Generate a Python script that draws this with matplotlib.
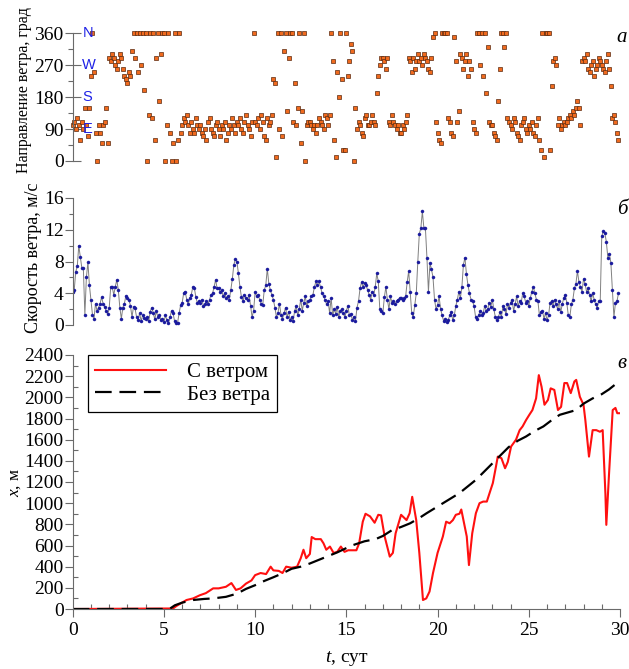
import numpy as np
import matplotlib
matplotlib.use("Agg")
import matplotlib.pyplot as plt
from matplotlib.ticker import MultipleLocator, FixedLocator

plt.rcParams['font.family'] = ['Liberation Serif', 'DejaVu Serif']
plt.rcParams['mathtext.fontset'] = 'custom'
plt.rcParams['mathtext.it'] = 'Liberation Serif:italic'
plt.rcParams['mathtext.rm'] = 'Liberation Serif'

# ---------------- data ----------------
# wind direction, deg (12 samples per day, days 0..29)
direction_by_day = [
    [100, 110, 90, 120, 100, 60, 110, 90, 150, 100, 70, 150],
    [240, 360, 250, 80, 0, 100, 80, 50, 100, 110, 150, 50],
    [290, 280, 300, 290, 270, 260, 280, 300, 290, 260, 240, 230],
    [220, 250, 240, 310, 360, 290, 360, 250, 360, 270, 360, 200],
    [360, 0, 130, 360, 120, 360, 60, 290, 360, 170, 300, 360],
    [360, 0, 100, 360, 80, 0, 50, 360, 0, 60, 360, 80],
    [100, 120, 110, 130, 100, 80, 110, 90, 80, 120, 100, 90],
    [100, 80, 70, 90, 60, 110, 120, 90, 80, 70, 100, 110],
    [90, 70, 100, 90, 110, 60, 80, 100, 90, 120, 100, 80],
    [110, 100, 120, 90, 80, 110, 130, 100, 90, 70, 110, 360],
    [110, 100, 120, 90, 130, 110, 70, 60, 120, 100, 110, 130],
    [230, 220, 10, 360, 90, 360, 70, 310, 360, 140, 290, 360],
    [360, 110, 220, 100, 150, 360, 50, 140, 360, 0, 100, 110],
    [110, 100, 90, 100, 80, 100, 120, 110, 100, 90, 130, 120],
    [100, 130, 360, 280, 60, 10, 250, 180, 360, 230, 30, 30],
    [360, 240, 280, 330, 310, 0, 150, 90, 110, 100, 80, 70],
    [120, 130, 100, 100, 110, 130, 110, 100, 190, 240, 270, 290],
    [290, 280, 260, 290, 110, 100, 130, 110, 100, 90, 100, 80],
    [80, 100, 90, 110, 130, 290, 280, 250, 290, 260, 280, 300],
    [280, 290, 270, 300, 290, 280, 260, 250, 290, 350, 360, 110],
    [80, 60, 50, 360, 360, 360, 360, 120, 110, 80, 70, 350],
    [280, 110, 140, 300, 290, 260, 280, 300, 240, 280, 260, 110],
    [90, 80, 360, 360, 270, 360, 240, 360, 190, 320, 110, 100],
    [100, 80, 70, 60, 170, 260, 360, 360, 320, 360, 120, 110],
    [100, 90, 120, 110, 80, 70, 60, 100, 110, 120, 90, 80],
    [100, 90, 110, 80, 70, 100, 120, 60, 30, 360, 10, 360],
    [360, 360, 30, 210, 280, 290, 270, 100, 120, 90, 100, 110],
    [100, 110, 120, 130, 120, 140, 130, 150, 170, 150, 100, 280],
    [290, 280, 300, 260, 250, 270, 280, 240, 260, 270, 290, 280],
    [270, 260, 250, 280, 300, 260, 210, 120, 130, 110, 80, 60],
]

# wind speed, m/s (12 samples per day)
speed_by_day = [
    [4.1, 4.4, 6.7, 7.4, 10.0, 8.6, 7.2, 7.2, 1.3, 6.0, 7.9, 5.0],
    [3.2, 1.3, 0.8, 2.7, 1.8, 2.2, 2.7, 3.5, 2.7, 2.3, 1.8, 1.4],
    [2.1, 4.8, 4.8, 3.8, 4.8, 5.7, 4.4, 2.2, 0.8, 2.2, 2.7, 3.7],
    [3.4, 3.2, 2.4, 1.0, 2.3, 2.1, 1.0, 0.6, 1.5, 0.5, 1.2, 0.9],
    [0.8, 1.0, 0.5, 1.7, 2.2, 1.5, 0.7, 1.8, 1.0, 1.3, 0.6, 0.8],
    [0.4, 1.2, 0.6, 0.2, 1.0, 1.8, 1.5, 0.5, 0.3, 0.3, 1.5, 2.5],
    [2.8, 4.0, 4.2, 3.2, 2.6, 3.4, 3.8, 4.8, 4.7, 3.5, 2.8, 3.0],
    [2.8, 3.2, 2.4, 2.6, 3.0, 2.6, 3.2, 3.8, 4.0, 4.8, 5.7, 4.6],
    [4.6, 4.2, 4.4, 3.6, 4.0, 3.4, 3.6, 3.2, 4.4, 5.8, 7.6, 8.3],
    [8.0, 6.5, 4.8, 3.5, 3.0, 3.8, 3.4, 3.2, 3.8, 2.4, 1.0, 1.8],
    [4.2, 3.6, 3.8, 3.2, 2.7, 2.5, 4.4, 5.0, 7.1, 5.2, 4.4, 3.8],
    [3.2, 2.2, 1.0, 1.5, 2.7, 1.3, 0.8, 1.5, 2.2, 1.0, 1.7, 0.6],
    [1.0, 0.5, 1.8, 2.4, 1.2, 2.0, 3.2, 1.8, 2.8, 3.6, 2.4, 3.0],
    [3.2, 3.6, 3.8, 4.8, 5.5, 5.0, 5.5, 4.8, 4.0, 3.6, 3.2, 2.6],
    [3.0, 1.5, 3.4, 1.2, 2.0, 1.4, 2.3, 1.0, 1.8, 2.0, 1.5, 1.0],
    [1.8, 2.4, 1.2, 1.4, 0.6, 1.0, 0.5, 2.2, 3.0, 4.6, 5.4, 4.8],
    [5.3, 5.0, 4.4, 3.8, 3.2, 4.2, 3.8, 4.8, 6.5, 5.5, 2.0, 1.8],
    [1.5, 3.5, 4.8, 3.2, 2.0, 3.6, 2.8, 3.0, 2.6, 3.0, 3.2, 3.4],
    [3.4, 3.2, 3.4, 3.6, 5.4, 6.8, 4.2, 1.5, 1.0, 2.5, 4.0, 8.0],
    [11.5, 12.2, 14.3, 12.2, 12.2, 8.5, 4.2, 7.8, 7.0, 6.0, 3.2, 2.0],
    [2.5, 3.6, 2.0, 1.2, 0.5, 0.8, 0.4, 0.6, 1.2, 1.6, 0.6, 1.2],
    [2.4, 3.2, 4.2, 3.4, 4.8, 7.6, 8.5, 6.4, 5.0, 4.0, 3.2, 3.0],
    [2.4, 1.0, 0.8, 1.2, 1.8, 1.2, 1.5, 2.4, 1.8, 2.0, 2.8, 2.3],
    [3.2, 2.0, 1.0, 0.6, 1.0, 1.6, 1.0, 2.4, 2.0, 1.4, 2.6, 2.2],
    [2.8, 3.2, 1.8, 2.6, 3.6, 2.4, 3.0, 2.8, 4.0, 3.6, 2.8, 3.0],
    [2.4, 3.4, 4.2, 4.8, 4.0, 3.2, 3.0, 1.2, 1.6, 1.8, 0.8, 1.5],
    [0.6, 1.2, 2.8, 3.0, 2.4, 3.2, 2.6, 2.0, 3.0, 1.6, 2.6, 3.4],
    [3.8, 2.8, 1.2, 1.0, 2.6, 3.2, 4.6, 5.2, 6.8, 5.4, 4.8, 4.2],
    [5.8, 5.2, 4.2, 4.6, 3.8, 3.0, 4.0, 3.2, 2.6, 2.2, 3.0, 3.0],
    [11.2, 11.8, 11.6, 10.5, 8.5, 9.0, 7.8, 4.4, 1.0, 2.8, 3.0, 4.0],
]

# drift distance with wind (days, m)
wind_t = [0, 5.5, 5.7, 6.24, 6.6, 6.97, 7.3, 7.7, 8.0, 8.4, 8.7, 8.95, 9.2, 9.5, 9.8,
          10.0, 10.3, 10.6, 10.85, 11.0, 11.3, 11.5, 11.7, 12.0, 12.3, 12.5, 12.65,
          12.8, 13.0, 13.1, 13.3, 13.6, 13.75, 13.9, 14.1, 14.3, 14.5, 14.7, 14.9,
          15.1, 15.3, 15.55, 15.7, 15.9, 16.05, 16.3, 16.55, 16.75, 16.9, 17.1, 17.38,
          17.55, 17.7, 18.0, 18.3, 18.47, 18.61, 18.83, 19.0, 19.2, 19.38, 19.56, 19.75,
          20.0, 20.29, 20.47, 20.66, 20.84, 21.0, 21.2, 21.3, 21.6, 21.72, 21.9, 22.1,
          22.3, 22.5, 22.7, 22.85, 23.03, 23.2, 23.3, 23.5, 23.7, 23.85, 24.03, 24.3,
          24.5, 24.66, 24.85, 25.03, 25.2, 25.4, 25.55, 25.7, 25.86, 26.05, 26.2, 26.4,
          26.6, 26.77, 26.95, 27.1, 27.3, 27.5, 27.6, 27.8, 28.0, 28.1, 28.3, 28.5,
          28.7, 28.9, 29.05, 29.2, 29.25, 29.4, 29.6, 29.75, 29.85, 30.0]
wind_x = [0, 5, 30, 85, 100, 130, 150, 195, 195, 210, 245, 180, 195, 240, 270,
          320, 340, 330, 400, 365, 360, 340, 400, 390, 400, 480, 560,
          480, 520, 680, 660, 660, 620, 560, 590, 530, 540, 590, 540,
          555, 555, 555, 620, 825, 900, 875, 815, 890, 885, 685, 495,
          530, 715, 890, 840, 905, 1060, 840, 530, 85, 100, 165, 340,
          530, 685, 825, 810, 840, 890, 900, 940, 685, 415, 715, 905,
          1000, 1015, 1015, 1095, 1190, 1345, 1440, 1425, 1330, 1390, 1535, 1600,
          1690, 1725, 1785, 1835, 1880, 1990, 2210, 2100, 1930, 1975, 2085, 2070,
          1880, 1910, 2135, 2135, 2040, 2150, 2165, 2005, 1930, 1785, 1440, 1690,
          1690, 1675, 1690, 1090, 795, 1280, 1880, 1900, 1850, 1850]

# drift distance without wind (days, m)
calm_t = [0, 5.3, 5.6, 6.0, 6.6, 7.2, 7.7, 8.4, 9.0, 9.5, 10.0, 10.5, 11.0, 11.5,
          12.0, 12.5, 13.0, 13.5, 14.0, 14.5, 15.3, 16.0, 16.6, 17.0, 17.5, 18.0,
          18.5, 19.0, 19.4, 20.3, 21.2, 22.1, 23.0, 23.9, 24.4, 24.85, 25.3, 25.8,
          26.3, 26.7, 27.2, 27.6, 28.0, 28.5, 29.0, 29.4, 29.8, 30.0]
calm_x = [0, 0, 35, 60, 85, 95, 100, 115, 145, 190, 225, 265, 300, 337,
          380, 400, 430, 465, 500, 535, 600, 640, 660, 690, 745, 775,
          810, 860, 905, 1000, 1095, 1220, 1375, 1530, 1590, 1630, 1680, 1725,
          1790, 1835, 1860, 1880, 1940, 1990, 2030, 2075, 2130, 2140]

dir_ticks = [0, 90, 180, 270, 360]
compass = ['N', 'W', 'S', 'E']
compass_deg = [360, 270, 180, 90]
speed_ticks = [0, 4, 8, 12, 16]
x_ticks = [0, 200, 400, 600, 800, 1000, 1200, 1400, 1600, 1800, 2000, 2200, 2400]
t_ticks = [0, 5, 10, 15, 20, 25, 30]

# ---------------- figure ----------------
W, H = 629, 669
fig = plt.figure(figsize=(W / 100, H / 100), dpi=100)


def ax_at(left, top, right, bottom):
    return fig.add_axes([left / W, 1 - bottom / H, (right - left) / W, (bottom - top) / H])


L, R = 72.7, 620
SPC = '#6a6a6a'
TFS = 14

direction = np.array(direction_by_day, dtype=float).ravel()
speed = np.array(speed_by_day, dtype=float).ravel()
t_dir = np.arange(direction.size) / 12.0
t_spd = np.arange(speed.size) / 12.0

# --- panel a ---
ax1 = ax_at(L, 33, R, 161)
ax1.plot(t_dir, direction, ls='none', marker='s', ms=2.5, mfc='#f06a1e',
         mec='#5a2a10', mew=0.5, clip_on=False)
ax1.set_xlim(0, 30)
ax1.set_ylim(0, 360)
for s in ['top', 'right', 'bottom']:
    ax1.spines[s].set_visible(False)
ax1.spines['left'].set_color(SPC)
ax1.set_xticks([])
ax1.yaxis.set_major_locator(FixedLocator(dir_ticks))
ax1.yaxis.set_minor_locator(MultipleLocator(45))
ax1.tick_params(axis='y', which='major', direction='inout', length=11, width=0.8,
                color=SPC, labelsize=TFS, pad=1)
ax1.tick_params(axis='y', which='minor', direction='out', length=3.5, width=0.8, color=SPC)
for lab, deg in zip(compass, compass_deg):
    ax1.annotate(lab, xy=(0, deg), xycoords=('axes fraction', 'data'),
                 xytext=(7, 0), textcoords='offset points', ha='left', va='center',
                 color='#1f22e6', fontsize=10.5, family=['Liberation Sans', 'DejaVu Sans'])

# --- panel b ---
ax2 = ax_at(L, 198, R, 325)
ax2.plot(t_spd, speed, color='#808080', lw=0.7, marker='o', ms=2.2,
         mfc='#1a1a9e', mec='#1a1a9e', mew=0.3)
ax2.set_xlim(0, 30)
ax2.set_ylim(0, 16)
for s in ['top', 'right', 'bottom']:
    ax2.spines[s].set_visible(False)
ax2.spines['left'].set_color(SPC)
ax2.set_xticks([])
ax2.yaxis.set_major_locator(FixedLocator(speed_ticks))
ax2.yaxis.set_minor_locator(MultipleLocator(2))
ax2.tick_params(axis='y', which='major', direction='out', length=5.5, width=0.8,
                color=SPC, labelsize=TFS, pad=1)
ax2.tick_params(axis='y', which='minor', direction='out', length=3, width=0.8, color=SPC)

# --- panel c ---
ax3 = ax_at(L, 355, R, 609)
ax3.plot(wind_t, wind_x, color='#ff1010', lw=1.5, label='С ветром')
ax3.plot(calm_t, calm_x, color='black', lw=1.6, ls=(0, (7.5, 3.5)), label='Без ветра')
ax3.set_xlim(0, 30)
ax3.set_ylim(0, 2400)
for s in ['top', 'right']:
    ax3.spines[s].set_visible(False)
for s in ['left', 'bottom']:
    ax3.spines[s].set_color(SPC)
ax3.xaxis.set_major_locator(FixedLocator(t_ticks))
ax3.xaxis.set_minor_locator(MultipleLocator(1))
ax3.yaxis.set_major_locator(FixedLocator(x_ticks))
ax3.yaxis.set_minor_locator(MultipleLocator(100))
ax3.tick_params(axis='both', which='major', direction='out', length=5.5, width=0.8,
                color=SPC, labelsize=TFS, pad=1)
ax3.tick_params(axis='x', which='major', pad=4)
ax3.tick_params(axis='both', which='minor', direction='in', length=3.5, width=0.8, color=SPC)
leg = ax3.legend(loc='upper left', bbox_to_anchor=((88 - L) / (R - L), 1.0),
                 borderaxespad=0, fancybox=False, edgecolor='black', framealpha=1,
                 fontsize=15, handlelength=3.4, handletextpad=1.0,
                 borderpad=0.35, labelspacing=0.15)
leg.get_frame().set_linewidth(0.9)

# --- labels ---
fig.text(24 / W, 1 - 90 / H, 'Направление ветра, град', rotation=90,
         ha='center', va='center', fontsize=11.5)
fig.text(34 / W, 1 - 258 / H, 'Скорость ветра, м/с', rotation=90,
         ha='center', va='center', fontsize=13)
fig.text(15 / W, 1 - 482 / H, '$x$, м', rotation=90,
         ha='center', va='center', fontsize=12.5)
fig.text(347 / W, 1 - 658 / H, '$t$, сут', ha='center', va='center', fontsize=14)
for lab, ypx in [('а', 37), ('б', 210), ('в', 364)]:
    fig.text(622 / W, 1 - ypx / H, lab, ha='center', va='center',
             fontsize=15, style='italic')

fig.savefig('out.png', dpi=100)
